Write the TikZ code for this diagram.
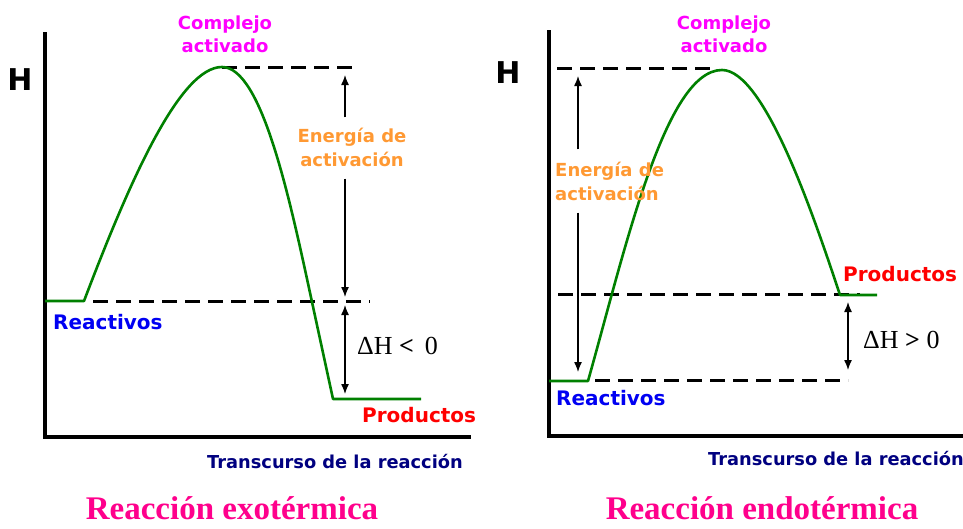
\documentclass[tikz,border=0pt]{standalone}
\usepackage{fontspec}
\setmainfont{Liberation Serif}
\newfontfamily\etiq{DejaVu Sans}
\usetikzlibrary{arrows.meta}

\definecolor{verde}{rgb}{0,0.5,0}
\definecolor{magenta}{rgb}{1,0,1}
\definecolor{naranja}{rgb}{1,0.6,0.2}
\definecolor{azul}{rgb}{0,0,0.95}
\definecolor{marino}{rgb}{0,0,0.5}
\definecolor{rojo}{rgb}{1,0,0}
\definecolor{rosa}{rgb}{1,0,0.55}

\tikzset{
  ejes/.style={black, line width=3.5pt},
  curva/.style={verde, line width=2.6pt, line join=round},
  nivel/.style={black, line width=3pt, dash pattern=on 15pt off 8pt},
  flecha/.style={black, line width=1.3pt, -{Latex[length=10pt,width=8pt]}},
  dflecha/.style={black, line width=1.3pt, {Latex[length=10pt,width=8pt]}-{Latex[length=10pt,width=8pt]}},
  etiqueta/.style={font=\etiq\bfseries\fontsize{18}{20}\selectfont, align=center, inner sep=0pt},
  titulo/.style={font=\bfseries\fontsize{33}{35}\selectfont, text=rosa, inner sep=0pt, anchor=base},
}

\begin{document}
\begin{tikzpicture}[x=1pt, y=-1pt]
        \useasboundingbox (0,0) rectangle (963,528);

        % exotermica
        \draw[ejes] (45,32) -- (45,437) -- (471,437);
        \node[etiqueta, font=\etiq\bfseries\fontsize{30}{30}\selectfont] (hA) at (20,80) {H};

        \draw[nivel] (222,67) -- (357,67);
        \draw[nivel] (93,301) -- (370,301);
        \draw[curva] (45,301) -- (84,301) .. controls (130,180) and (180,67) .. (222,67) .. controls (262,67) and (290,200) .. (312,302) -- (333,399) -- (421,399);

        \node[etiqueta, text=magenta] (complejoA) at (225,34) {Complejo\\[3pt]activado};
        \node[etiqueta, text=naranja] (energiaA) at (352,147) {Energía de\\[4pt]activación};
        \node[etiqueta, font=\etiq\bfseries\fontsize{20}{20}\selectfont, text=azul, anchor=west] (reactA) at (53,322) {Reactivos};
        \node[etiqueta, font=\etiq\bfseries\fontsize{20}{20}\selectfont, text=rojo, anchor=west] (prodA) at (362,415) {Productos};
        \node[font=\fontsize{26}{26}\selectfont, anchor=west, inner sep=0pt] (dhA) at (357,346) {ΔH \textbf{<}\, 0};
        \node[etiqueta, text=marino, font=\etiq\bfseries\fontsize{17.8}{18}\selectfont, anchor=west] (ejeA) at (207,461) {Transcurso de la reacción};
        \node[titulo] (tituloA) at (232,519) {Reacción exotérmica};

        \coordinate (eaA1) at (345,75);
        \coordinate (eaA2) at (345,297);
        \coordinate (dhA1) at (345,305);
        \coordinate (dhA2) at (345,394);
        \draw[flecha] (eaA1 |- energiaA.north) ++(0,-10) -- (eaA1);
        \draw[flecha] (eaA2 |- energiaA.south) ++(0,12) -- (eaA2);
        \draw[dflecha] (dhA1) -- (dhA2);

        % endotermica
        \draw[ejes] (549,30) -- (549,436) -- (970,436);
        \node[etiqueta, font=\etiq\bfseries\fontsize{30}{30}\selectfont] (hB) at (508,73) {H};

        \draw[nivel] (557,68) -- (713,68);
        \draw[nivel] (558,294) -- (860,294);
        \draw[nivel] (595,380) -- (848,380);
        \draw[curva] (549,381) -- (588,381) .. controls (625,250) and (665,70) .. (722,70) .. controls (765,70) and (815,220) .. (840,295) -- (877,295);

        \node[etiqueta, text=magenta] (complejoB) at (724,34) {Complejo\\[3pt]activado};
        \node[etiqueta, text=naranja, align=left, anchor=west] (energiaB) at (555,181) {Energía de\\[4pt]activación};
        \node[etiqueta, font=\etiq\bfseries\fontsize{20}{20}\selectfont, text=rojo, anchor=west] (prodB) at (843,274) {Productos};
        \node[etiqueta, font=\etiq\bfseries\fontsize{20}{20}\selectfont, text=azul, anchor=west] (reactB) at (556,398) {Reactivos};
        \node[font=\fontsize{26}{26}\selectfont, anchor=west, inner sep=0pt] (dhB) at (863,340) {ΔH \textbf{>} 0};
        \node[etiqueta, text=marino, font=\etiq\bfseries\fontsize{17.8}{18}\selectfont, anchor=west] (ejeB) at (708,458) {Transcurso de la reacción};
        \node[titulo] (tituloB) at (762,519) {Reacción endotérmica};

        \coordinate (eaB1) at (578,76);
        \coordinate (eaB2) at (578,372);
        \coordinate (dhB1) at (848,302);
        \coordinate (dhB2) at (848,370);
        \draw[flecha] (eaB1 |- energiaB.north) ++(0,-12) -- (eaB1);
        \draw[flecha] (eaB2 |- energiaB.south) ++(0,12) -- (eaB2);
        \draw[dflecha] (dhB1) -- (dhB2);
    \end{tikzpicture}
\end{document}
